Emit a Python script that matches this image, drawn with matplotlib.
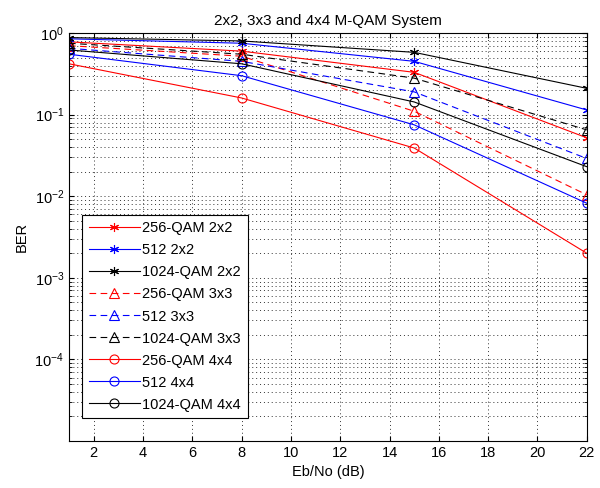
import matplotlib
matplotlib.use("Agg")
import matplotlib.pyplot as plt
from matplotlib.ticker import LogLocator, NullFormatter

plt.rcParams['font.family'] = ['Liberation Sans', 'DejaVu Sans']

ebno = [1, 8, 15, 22]

# BER values
ber_256_2x2 = [0.78, 0.60, 0.33, 0.052]
ber_512_2x2 = [0.85, 0.75, 0.45, 0.114]
ber_1024_2x2 = [0.88, 0.80, 0.58, 0.21]
ber_256_3x3 = [0.70, 0.52, 0.11, 0.0104]
ber_512_3x3 = [0.65, 0.45, 0.19, 0.029]
ber_1024_3x3 = [0.75, 0.55, 0.28, 0.065]
ber_256_4x4 = [0.42, 0.16, 0.039, 0.0020]
ber_512_4x4 = [0.55, 0.30, 0.075, 0.0082]
ber_1024_4x4 = [0.62, 0.42, 0.143, 0.023]

asterisk = (6, 2, 0)
series = [
    ("256-QAM 2x2", ber_256_2x2, 'r', asterisk, '-'),
    ("512 2x2", ber_512_2x2, 'b', asterisk, '-'),
    ("1024-QAM 2x2", ber_1024_2x2, 'k', asterisk, '-'),
    ("256-QAM 3x3", ber_256_3x3, 'r', '^', '--'),
    ("512 3x3", ber_512_3x3, 'b', '^', '--'),
    ("1024-QAM 3x3", ber_1024_3x3, 'k', '^', '--'),
    ("256-QAM 4x4", ber_256_4x4, 'r', 'o', '-'),
    ("512 4x4", ber_512_4x4, 'b', 'o', '-'),
    ("1024-QAM 4x4", ber_1024_4x4, 'k', 'o', '-'),
]

fig = plt.figure(figsize=(6, 4.88), dpi=100)
ax = fig.add_axes([0.115, 0.0963, 0.863, 0.836])

for label, vals, col, mk, ls in series:
    line, = ax.semilogy(ebno, vals, color=col, marker=mk, linestyle=ls, linewidth=0.8,
                        markersize=6.5, markerfacecolor='none',
                        markeredgewidth=0.8, label=label)
    if ls == '--':
        line.set_dashes((6, 4))

ax.set_xlim(1, 22)
ax.set_ylim(1e-5, 1)
ax.set_xticks(range(2, 23, 2))
ax.set_yticks([1e-4, 1e-3, 1e-2, 1e-1, 1])
ax.yaxis.set_minor_locator(LogLocator(base=10, subs=range(2, 10)))
ax.yaxis.set_minor_formatter(NullFormatter())

dots = (0, (1, 3))
ax.grid(True, which='major', axis='both', linestyle=dots, color='0.2', linewidth=0.7)
ax.grid(True, which='minor', axis='y', linestyle=dots, color='0.2', linewidth=0.7)
ax.tick_params(which='both', direction='in', top=True, right=True, labelsize=10.5)

ax.set_title("2x2, 3x3 and 4x4 M-QAM System", fontsize=11)
ax.set_xlabel("Eb/No (dB)", fontsize=10.5)
ax.set_ylabel("BER", fontsize=10.5)

leg = ax.legend(loc='lower left', bbox_to_anchor=(0.025, 0.056), fontsize=10.5,
                fancybox=False, edgecolor='k', framealpha=1, borderaxespad=0,
                handlelength=3.5, handletextpad=0.2, labelspacing=0.55, borderpad=0.45)
leg.get_frame().set_linewidth(0.8)

fig.savefig("out.png", dpi=100)
